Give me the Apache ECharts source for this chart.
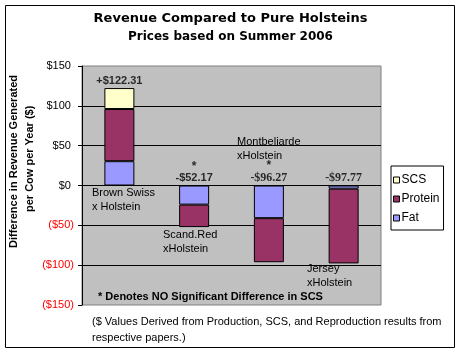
<!DOCTYPE html>
<html>
<head>
<meta charset="utf-8">
<script src="https://cdn.jsdelivr.net/npm/echarts@6/dist/echarts.min.js"></script>
<style>
  html, body { margin: 0; padding: 0; background: #fff; }
  #chart { width: 461px; height: 354px; }
</style>
</head>
<body>
<div id="chart"></div>
<script>
// breeds (x categories)
var breeds = ['Brown Swiss\nx Holstein', 'Scand.Red\nxHolstein', 'Montbeliarde\nxHolstein', 'Jersey\nxHolstein'];
// components of revenue difference, $ per cow per year
var fat = [30.5, -24, -41, -4];
var protein = [65.5, -28.2, -55.3, -93.8];
var scs = [26.3, null, null, null];
// totals written over the bars
var totals = [122.31, -52.17, -96.27, -97.77];
var noSigDiff = [false, true, true, false];
// y ticks
var yTicks = [-150, -100, -50, 0, 50, 100, 150];

var chart = echarts.init(document.getElementById('chart'));

function money(v) {
    return v < 0 ? '($' + (-v) + ')' : '$' + v + ' ';
}

var totalData = totals.map(function (t, i) {
    var txt = (t > 0 ? '+$' : '-$') + Math.abs(t).toFixed(2);
    var serif = i >= 2;
    var fam = serif ? '"Liberation Serif", serif' : 'Arial';
    return {
        value: [i, Math.max(t, 0)],
        label: {
            fontFamily: fam, fontWeight: 'bold',
            formatter: (noSigDiff[i] ? '{s|*}\n' : '') + '{v|' + txt + '}',
            rich: {
                s: { fontSize: 12, fontWeight: 'bold', lineHeight: serif ? 12 : 10, fontFamily: 'Arial' },
                v: { fontSize: serif ? 12 : 11, fontWeight: 'bold', lineHeight: 13, fontFamily: fam }
            }
        }
    };
});

// where the breed names sit (pixel anchors, left/top)
var namePos = [[92, 186], [163, 228], [237, 135], [307, 262]];

var graphics = [
    { type: 'rect', shape: { x: 5.5, y: 5.5, width: 449, height: 342 },
      style: { fill: null, stroke: '#000', lineWidth: 1 }, z: 100 },
    { type: 'text', left: 'center', top: 12,
      style: { text: 'Revenue Compared to Pure Holsteins', font: 'bold 13px "DejaVu Sans"', fill: '#000' } },
    { type: 'text', left: 'center', top: 31,
      style: { text: 'Prices based on Summer 2006', font: 'bold 12px "DejaVu Sans"', fill: '#000' } },
    { type: 'text', x: 8, y: 248, rotation: Math.PI / 2,
      style: { text: 'Difference in Revenue Generated', font: 'bold 11px Arial', fill: '#000' } },
    { type: 'text', x: 24, y: 212, rotation: Math.PI / 2,
      style: { text: 'per Cow per Year ($)', font: 'bold 11px Arial', fill: '#000' } },
    { type: 'text', x: 98, y: 291, z: 50,
      style: { text: '* Denotes NO Significant Difference in SCS', font: 'bold 11px Arial', fill: '#000' } },
    { type: 'text', x: 92, y: 314,
      style: { text: '($ Values Derived from Production, SCS, and Reproduction results from\nrespective papers.)',
               font: '11px Arial', lineHeight: 16, fill: '#000' } }
];
breeds.forEach(function (b, i) {
    graphics.push({ type: 'text', x: namePos[i][0], y: namePos[i][1], z: 50,
        style: { text: b, font: '11px Arial', lineHeight: 14, fill: '#000' } });
});

var barBorder = { borderColor: '#000', borderWidth: 1 };

var option = {
    animation: false,
    backgroundColor: '#fff',
    grid: { left: 82, top: 66, width: 299, height: 239, show: true,
            backgroundColor: '#C0C0C0', borderColor: '#808080', borderWidth: 1 },
    legend: {
        data: ['SCS', 'Protein', 'Fat'],
        orient: 'vertical', left: 391, top: 166,
        padding: [8, 4, 6, 2], itemGap: 7,
        itemWidth: 6, itemHeight: 6, icon: 'rect',
        backgroundColor: '#fff', borderColor: '#000', borderWidth: 1,
        textStyle: { fontFamily: 'Arial', fontSize: 12, color: '#000', padding: [0, 0, 0, -3] },
        itemStyle: { borderColor: '#000', borderWidth: 1 }
    },
    xAxis: {
        type: 'category', data: breeds, show: false
    },
    yAxis: {
        type: 'value', min: yTicks[0], max: yTicks[yTicks.length - 1], interval: 50,
        axisLine: { show: true, lineStyle: { color: '#000' } },
        axisTick: { show: true, length: 4, lineStyle: { color: '#000' } },
        axisLabel: {
            margin: 8, fontFamily: 'Arial', fontSize: 11,
            formatter: money,
            color: function (v) { return v < 0 ? '#FF0000' : '#000'; }
        },
        splitLine: { show: true, showMinLine: false, showMaxLine: false, lineStyle: { color: '#000' } }
    },
    series: [
        { name: 'Fat', type: 'bar', stack: 'rev', data: fat, barWidth: 30,
          itemStyle: Object.assign({ color: '#9999FF' }, barBorder) },
        { name: 'Protein', type: 'bar', stack: 'rev', data: protein, barWidth: 30,
          itemStyle: Object.assign({ color: '#993366' }, barBorder) },
        { name: 'SCS', type: 'bar', stack: 'rev', data: scs, barWidth: 30,
          itemStyle: Object.assign({ color: '#FFFFCC' }, barBorder) },
        { name: 'totals', type: 'scatter', data: totalData, symbolSize: 0, silent: true,
          label: { show: true, position: 'top', distance: 1, color: '#000' } }
    ],
    graphic: graphics
};
chart.setOption(option);
</script>
</body>
</html>
